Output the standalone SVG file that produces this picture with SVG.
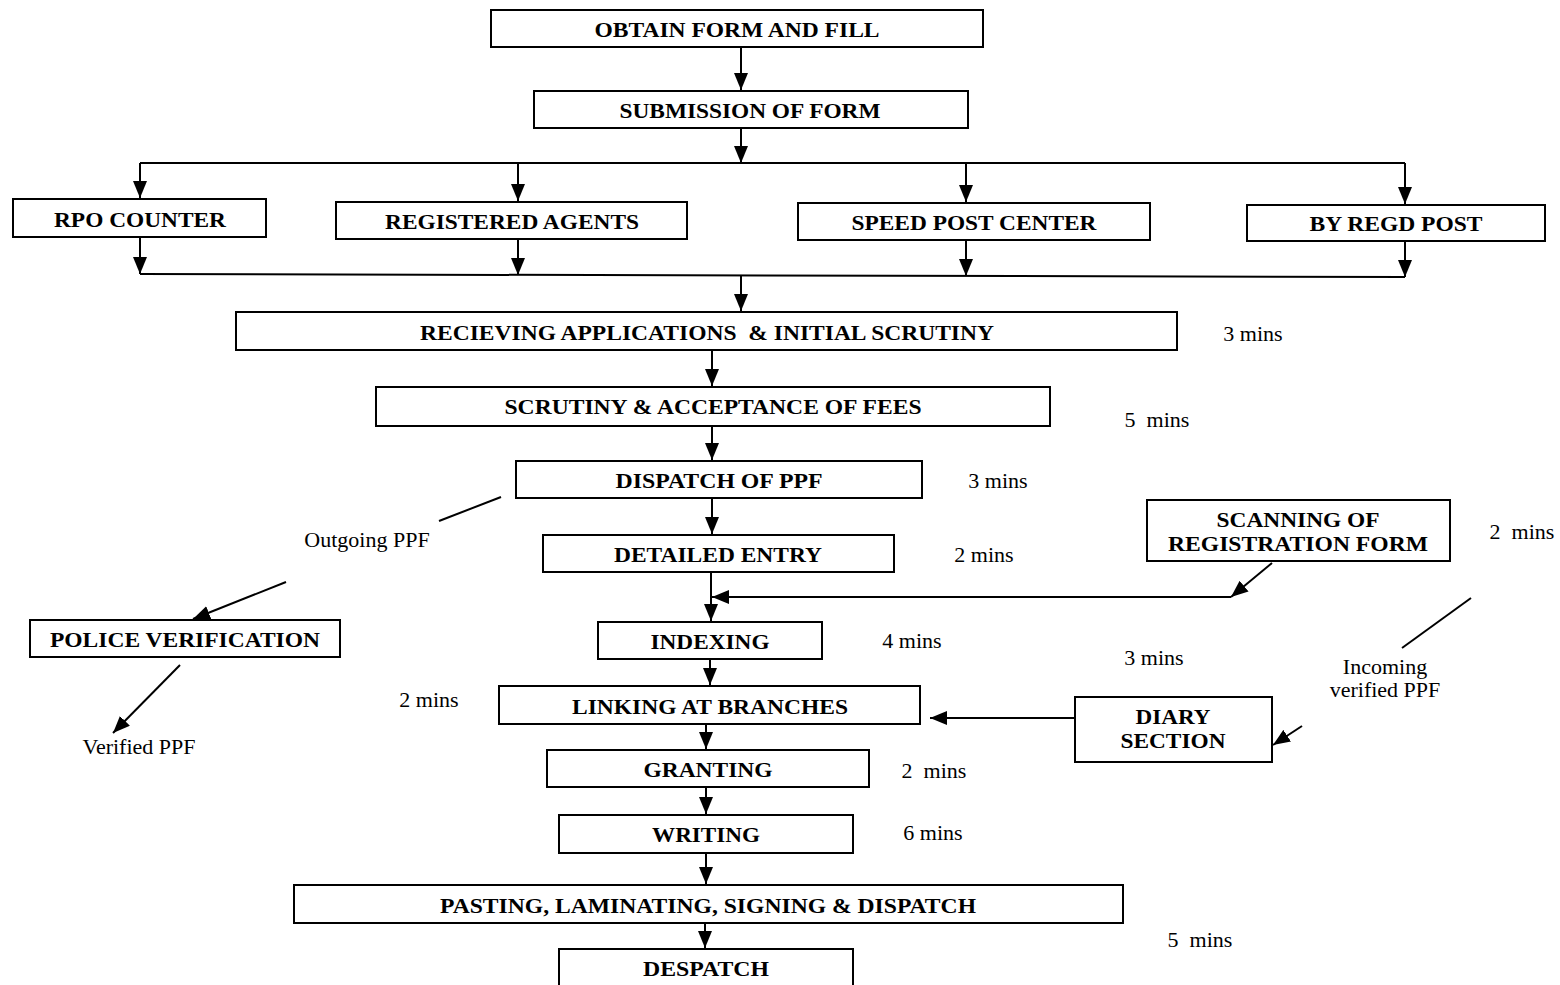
<svg xmlns="http://www.w3.org/2000/svg" width="1560" height="985" viewBox="0 0 1560 985">
<style>
.box{fill:#fff;stroke:#000;stroke-width:2}
.lbl{font-family:"Liberation Serif","Times New Roman",serif;font-weight:bold;font-size:20px;text-anchor:middle;fill:#000}
.t{font-family:"Liberation Serif","Times New Roman",serif;font-size:22px;text-anchor:middle;fill:#000}
.c{fill:none;stroke:#000;stroke-width:2}
</style>
<defs>
<marker id="ah" markerUnits="userSpaceOnUse" markerWidth="18" markerHeight="14" refX="17" refY="7" orient="auto"><path d="M0,0 L17,7 L0,14 z" fill="#000"/></marker>
</defs>
<rect width="1560" height="985" fill="#fff"/>
<g id="connectors">
<line class="c" x1="741" y1="47" x2="741" y2="90" marker-end="url(#ah)"/>
<line class="c" x1="741" y1="128" x2="741" y2="163" marker-end="url(#ah)"/>
<polyline class="c" points="140,163 1405,163"/>
<line class="c" x1="140" y1="163" x2="140" y2="198" marker-end="url(#ah)"/>
<line class="c" x1="518" y1="163" x2="518" y2="201" marker-end="url(#ah)"/>
<line class="c" x1="966" y1="163" x2="966" y2="202" marker-end="url(#ah)"/>
<line class="c" x1="1405" y1="163" x2="1405" y2="204" marker-end="url(#ah)"/>
<line class="c" x1="140" y1="237" x2="140" y2="274" marker-end="url(#ah)"/>
<line class="c" x1="518" y1="239" x2="518" y2="275" marker-end="url(#ah)"/>
<line class="c" x1="966" y1="240" x2="966" y2="276" marker-end="url(#ah)"/>
<line class="c" x1="1405" y1="241" x2="1405" y2="277" marker-end="url(#ah)"/>
<polyline class="c" points="140,274 1405,277"/>
<line class="c" x1="741" y1="276" x2="741" y2="311" marker-end="url(#ah)"/>
<line class="c" x1="712" y1="350" x2="712" y2="386" marker-end="url(#ah)"/>
<line class="c" x1="712" y1="426" x2="712" y2="460" marker-end="url(#ah)"/>
<line class="c" x1="712" y1="498" x2="712" y2="534" marker-end="url(#ah)"/>
<line class="c" x1="711" y1="572" x2="711" y2="621" marker-end="url(#ah)"/>
<line class="c" x1="1272" y1="563" x2="1231" y2="597" marker-end="url(#ah)"/>
<line class="c" x1="1231" y1="597" x2="712" y2="597" marker-end="url(#ah)"/>
<line class="c" x1="710" y1="659" x2="710" y2="685" marker-end="url(#ah)"/>
<line class="c" x1="1075" y1="718" x2="930" y2="718" marker-end="url(#ah)"/>
<line class="c" x1="1471" y1="598" x2="1402" y2="648"/>
<line class="c" x1="1302" y1="726" x2="1273" y2="745" marker-end="url(#ah)"/>
<line class="c" x1="706" y1="724" x2="706" y2="749" marker-end="url(#ah)"/>
<line class="c" x1="706" y1="787" x2="706" y2="814" marker-end="url(#ah)"/>
<line class="c" x1="706" y1="853" x2="706" y2="884" marker-end="url(#ah)"/>
<line class="c" x1="705" y1="923" x2="705" y2="948" marker-end="url(#ah)"/>
<line class="c" x1="501" y1="497" x2="439" y2="521"/>
<line class="c" x1="286" y1="582" x2="193" y2="619" marker-end="url(#ah)"/>
<line class="c" x1="180" y1="665" x2="113" y2="733" marker-end="url(#ah)"/>
</g>
<g id="n-obtain"><rect class="box" x="491" y="10" width="492" height="37"/><text class="lbl" x="737" y="37" textLength="285" lengthAdjust="spacingAndGlyphs">OBTAIN FORM AND FILL</text></g>
<g id="n-submission"><rect class="box" x="534" y="91" width="434" height="37"/><text class="lbl" x="750" y="118" textLength="261" lengthAdjust="spacingAndGlyphs">SUBMISSION OF FORM</text></g>
<g id="n-rpo"><rect class="box" x="13" y="199" width="253" height="38"/><text class="lbl" x="140" y="227" textLength="172" lengthAdjust="spacingAndGlyphs">RPO COUNTER</text></g>
<g id="n-agents"><rect class="box" x="336" y="202" width="351" height="37"/><text class="lbl" x="512" y="229" textLength="254" lengthAdjust="spacingAndGlyphs">REGISTERED AGENTS</text></g>
<g id="n-speed"><rect class="box" x="798" y="203" width="352" height="37"/><text class="lbl" x="974" y="230" textLength="245" lengthAdjust="spacingAndGlyphs">SPEED POST CENTER</text></g>
<g id="n-regd"><rect class="box" x="1247" y="205" width="298" height="36"/><text class="lbl" x="1396" y="231" textLength="173" lengthAdjust="spacingAndGlyphs">BY REGD POST</text></g>
<g id="n-receiving"><rect class="box" x="236" y="312" width="941" height="38"/><text class="lbl" x="707" y="340" textLength="574" lengthAdjust="spacingAndGlyphs" xml:space="preserve">RECIEVING APPLICATIONS  &amp; INITIAL SCRUTINY</text></g>
<text class="t" x="1253" y="341">3 mins</text>
<g id="n-scrutiny"><rect class="box" x="376" y="387" width="674" height="39"/><text class="lbl" x="713" y="414" textLength="417" lengthAdjust="spacingAndGlyphs">SCRUTINY &amp; ACCEPTANCE OF FEES</text></g>
<text class="t" x="1157" y="427" xml:space="preserve">5  mins</text>
<g id="n-dispatchppf"><rect class="box" x="516" y="461" width="406" height="37"/><text class="lbl" x="719" y="488" textLength="207" lengthAdjust="spacingAndGlyphs">DISPATCH OF PPF</text></g>
<text class="t" x="998" y="488">3 mins</text>
<g id="n-detailed"><rect class="box" x="543" y="535" width="351" height="37"/><text class="lbl" x="718" y="562" textLength="208" lengthAdjust="spacingAndGlyphs">DETAILED ENTRY</text></g>
<text class="t" x="984" y="562">2 mins</text>
<g id="n-scanning"><rect class="box" x="1147" y="500" width="303" height="61"/><text class="lbl" x="1298" y="527" textLength="163" lengthAdjust="spacingAndGlyphs">SCANNING OF</text><text class="lbl" x="1298" y="551" textLength="260" lengthAdjust="spacingAndGlyphs">REGISTRATION FORM</text></g>
<text class="t" x="1522" y="539" xml:space="preserve">2  mins</text>
<g id="n-indexing"><rect class="box" x="598" y="622" width="224" height="37"/><text class="lbl" x="710" y="649" textLength="119" lengthAdjust="spacingAndGlyphs">INDEXING</text></g>
<text class="t" x="912" y="648">4 mins</text>
<text class="t" x="1154" y="665">3 mins</text>
<g id="n-linking"><rect class="box" x="499" y="686" width="421" height="38"/><text class="lbl" x="710" y="714" textLength="276" lengthAdjust="spacingAndGlyphs">LINKING AT BRANCHES</text></g>
<text class="t" x="429" y="707">2 mins</text>
<g id="n-diary"><rect class="box" x="1075" y="697" width="197" height="65"/><text class="lbl" x="1173" y="724" textLength="75" lengthAdjust="spacingAndGlyphs">DIARY</text><text class="lbl" x="1173" y="748" textLength="105" lengthAdjust="spacingAndGlyphs">SECTION</text></g>
<text class="t" x="1385" y="674">Incoming</text>
<text class="t" x="1385" y="697">verified PPF</text>
<g id="n-granting"><rect class="box" x="547" y="750" width="322" height="37"/><text class="lbl" x="708" y="777" textLength="129" lengthAdjust="spacingAndGlyphs">GRANTING</text></g>
<text class="t" x="934" y="778" xml:space="preserve">2  mins</text>
<g id="n-writing"><rect class="box" x="559" y="815" width="294" height="38"/><text class="lbl" x="706" y="842" textLength="108" lengthAdjust="spacingAndGlyphs">WRITING</text></g>
<text class="t" x="933" y="840">6 mins</text>
<g id="n-pasting"><rect class="box" x="294" y="885" width="829" height="38"/><text class="lbl" x="708" y="913" textLength="536" lengthAdjust="spacingAndGlyphs">PASTING, LAMINATING, SIGNING &amp; DISPATCH</text></g>
<text class="t" x="1200" y="947" xml:space="preserve">5  mins</text>
<g id="n-despatch"><rect class="box" x="559" y="949" width="294" height="45"/><text class="lbl" x="706" y="976" textLength="126" lengthAdjust="spacingAndGlyphs">DESPATCH</text></g>
<text class="t" x="367" y="547">Outgoing PPF</text>
<g id="n-police"><rect class="box" x="30" y="620" width="310" height="37"/><text class="lbl" x="185" y="647" textLength="270" lengthAdjust="spacingAndGlyphs">POLICE VERIFICATION</text></g>
<text class="t" x="139" y="754">Verified PPF</text>
</svg>
